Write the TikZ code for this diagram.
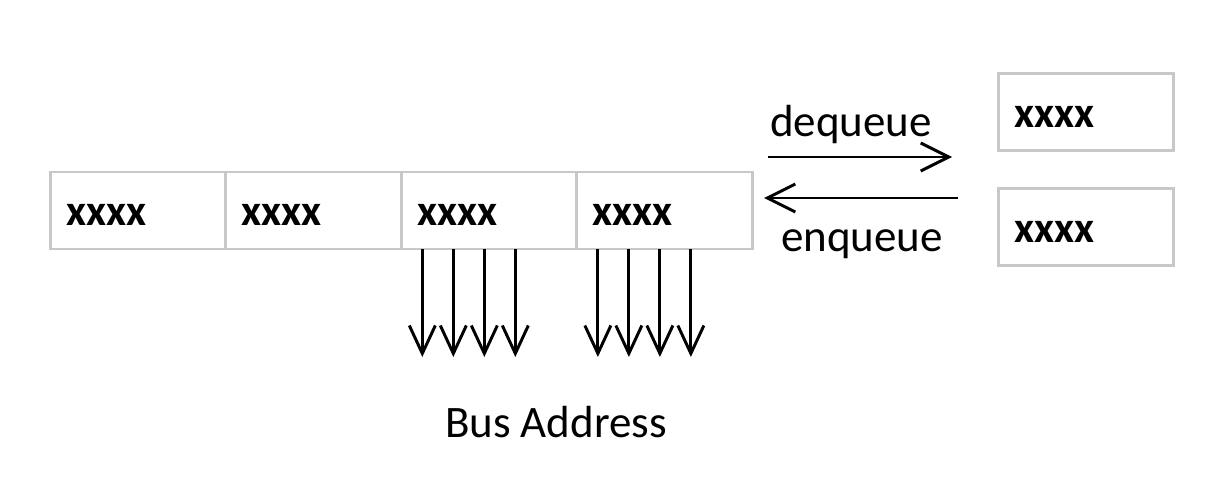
\documentclass[tikz,border=0pt]{standalone}
\usepackage{fontspec}
\setmainfont{Carlito}
\usepackage{xcolor}
\usetikzlibrary{arrows.meta,positioning,calc}
\definecolor{cellgray}{RGB}{200,200,200}
\tikzset{
  qcell/.style={rectangle,draw=cellgray,line width=2.1pt,outer sep=0pt,
    minimum width=4.3875cm,minimum height=1.925cm,inner xsep=0.4cm,
    text width=3.5875cm,text height=0.76cm,align=left,
    font=\fontsize{31}{37}\selectfont\bfseries},
  qlabel/.style={inner sep=0pt,anchor=base,font=\fontsize{32}{38}\selectfont},
  qarrow/.style={-{Straight Barb[length=0.7cm,width=0.7cm]},line width=2.1pt},
  busarrow/.style={qarrow,-{Straight Barb[length=0.7cm,width=0.65cm]}}
}
\begin{document}
\begin{tikzpicture}[x=0.025cm,y=-0.025cm,node distance=0pt]
  \useasboundingbox (0,0) rectangle (1228,478);
  % queue
  \node[qcell] (c1) at (138,210.5) {xxxx};
  \node[qcell,right=of c1] (c2) {xxxx};
  \node[qcell,right=of c2] (c3) {xxxx};
  \node[qcell,right=of c3] (c4) {xxxx};
  % elements outside
  \node[qcell] (r1) at (1086,112) {xxxx};
  \node[qcell,below=0.95cm of r1] (r2) {xxxx};
  % dequeue / enqueue
  \coordinate (dqs) at (768,157);
  \coordinate (dqe) at (952,157);
  \coordinate (eqs) at (958,198);
  \coordinate (eqe) at (764,198);
  \draw[qarrow] (dqs)--(dqe);
  \draw[qarrow] (eqs)--(eqe);
  \node[qlabel] (deq) at (851,137) {dequeue};
  \node[qlabel] (enq) at (862,251) {enqueue};
  % bus lines
  \foreach \c in {c3,c4}
    \foreach \i in {0,...,3} {
      \coordinate (\c-t\i) at ($(\c.south west)+(21+31*\i,108)$);
      \draw[busarrow] (\c.south west -| \c-t\i)--(\c-t\i);
    }
  \node[qlabel] (bus) at (556,437) {Bus Address};
\end{tikzpicture}
\end{document}
